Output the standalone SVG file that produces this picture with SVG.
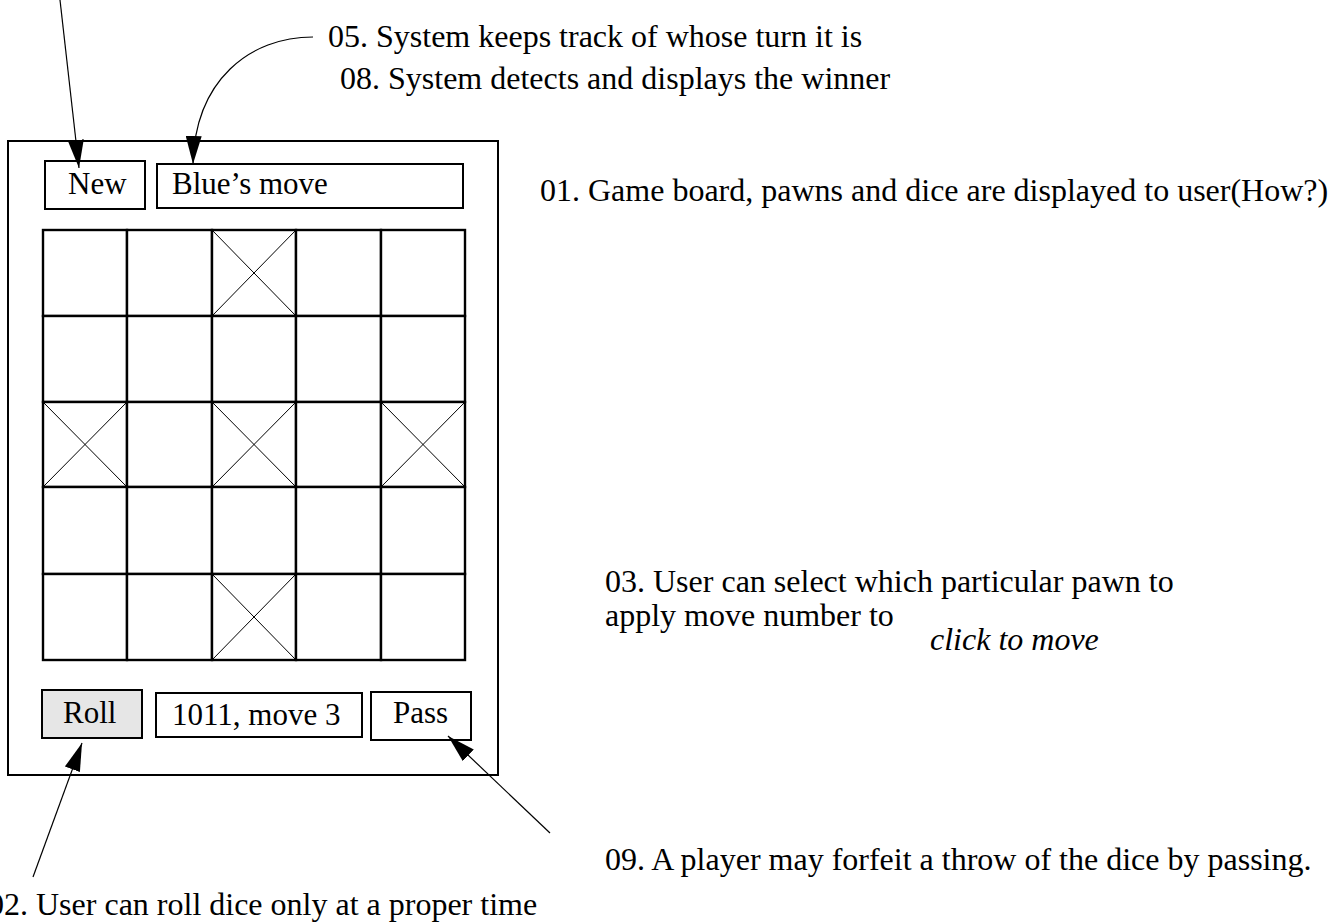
<svg xmlns="http://www.w3.org/2000/svg" width="1339" height="923" viewBox="0 0 1339 923">
<style>
.t{font-family:"Liberation Serif","Times New Roman",serif;font-size:31px;fill:#000}
.n{font-family:"Liberation Serif","Times New Roman",serif;font-size:32px;fill:#000}
.i{font-style:italic}
.box{fill:#fff;stroke:#000;stroke-width:2}
.cell{fill:#fff;stroke:#000;stroke-width:2.4}
.x{stroke:#000;stroke-width:1;fill:none}
.c{stroke:#000;stroke-width:1.2;fill:none}
</style>
<defs>
<marker id="ah" viewBox="0 0 28 16" refX="28" refY="8" markerWidth="28" markerHeight="16" markerUnits="userSpaceOnUse" orient="auto">
<path d="M0,0 L28,8 L0,16 z" fill="#000"/>
</marker>
</defs>
<rect width="1339" height="923" fill="#fff"/>
<g id="frame"><rect class="box" x="8" y="141" width="490" height="634"/></g>
<g id="new"><rect class="box" x="45" y="161" width="100" height="48"/><text class="t" x="68" y="194">New</text></g>
<g id="status"><rect class="box" x="157" y="164" width="306" height="44"/><text class="t" x="172" y="194">Blue’s move</text></g>
<g id="board">
<rect class="cell" x="43" y="230" width="84" height="86"/>
<rect class="cell" x="127" y="230" width="85" height="86"/>
<rect class="cell" x="212" y="230" width="84" height="86"/>
<rect class="cell" x="296" y="230" width="85" height="86"/>
<rect class="cell" x="381" y="230" width="84" height="86"/>
<rect class="cell" x="43" y="316" width="84" height="86"/>
<rect class="cell" x="127" y="316" width="85" height="86"/>
<rect class="cell" x="212" y="316" width="84" height="86"/>
<rect class="cell" x="296" y="316" width="85" height="86"/>
<rect class="cell" x="381" y="316" width="84" height="86"/>
<rect class="cell" x="43" y="402" width="84" height="85"/>
<rect class="cell" x="127" y="402" width="85" height="85"/>
<rect class="cell" x="212" y="402" width="84" height="85"/>
<rect class="cell" x="296" y="402" width="85" height="85"/>
<rect class="cell" x="381" y="402" width="84" height="85"/>
<rect class="cell" x="43" y="487" width="84" height="87"/>
<rect class="cell" x="127" y="487" width="85" height="87"/>
<rect class="cell" x="212" y="487" width="84" height="87"/>
<rect class="cell" x="296" y="487" width="85" height="87"/>
<rect class="cell" x="381" y="487" width="84" height="87"/>
<rect class="cell" x="43" y="574" width="84" height="86"/>
<rect class="cell" x="127" y="574" width="85" height="86"/>
<rect class="cell" x="212" y="574" width="84" height="86"/>
<rect class="cell" x="296" y="574" width="85" height="86"/>
<rect class="cell" x="381" y="574" width="84" height="86"/>
<path class="x" d="M212,230 L296,316 M296,230 L212,316"/>
<path class="x" d="M43,402 L127,487 M127,402 L43,487"/>
<path class="x" d="M212,402 L296,487 M296,402 L212,487"/>
<path class="x" d="M381,402 L465,487 M465,402 L381,487"/>
<path class="x" d="M212,574 L296,660 M296,574 L212,660"/>
</g>
<g id="roll"><rect class="box" x="42" y="690" width="100" height="48" style="fill:#e6e6e6"/><text class="t" x="63" y="723">Roll</text></g>
<g id="dice"><rect class="box" x="156" y="693" width="206" height="44"/><text class="t" x="172" y="725">1011, move 3</text></g>
<g id="pass"><rect class="box" x="371" y="692" width="100" height="48"/><text class="t" x="393" y="723">Pass</text></g>
<g id="connectors">
<path class="c" d="M60,0 L79,168" marker-end="url(#ah)"/>
<path class="c" d="M313,37 C250,37 195,80 193,164" marker-end="url(#ah)"/>
<path class="c" d="M33,877 L82,743" marker-end="url(#ah)"/>
<path class="c" d="M550,833 L448,736" marker-end="url(#ah)"/>
</g>
<g id="notes">
<text class="n" x="328" y="47">05. System keeps track of whose turn it is</text>
<text class="n" x="340" y="89">08. System detects and displays the winner</text>
<text class="n" x="540" y="201">01. Game board, pawns and dice are displayed to user(How?)</text>
<text class="n" x="605" y="592">03. User can select which particular pawn to</text>
<text class="n" x="605" y="626">apply move number to</text>
<text class="n i" x="930" y="650">click to move</text>
<text class="n" x="605" y="870">09. A player may forfeit a throw of the dice by passing.</text>
<text class="n" x="-12" y="915">02. User can roll dice only at a proper time</text>
</g>
</svg>
